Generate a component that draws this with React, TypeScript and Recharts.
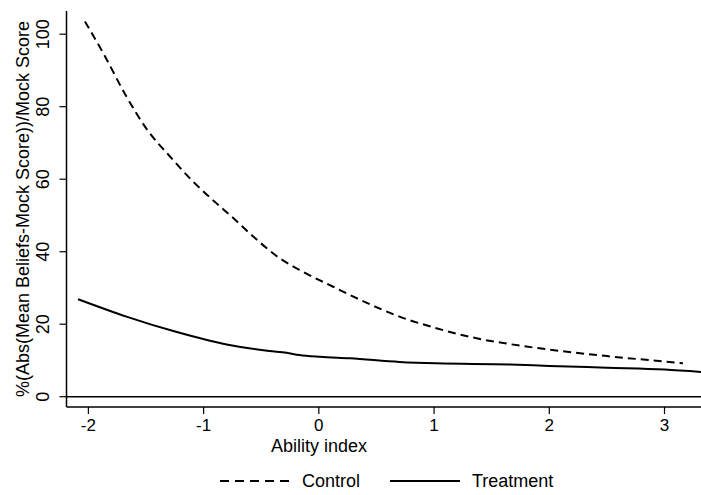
import React from 'react';
import { LineChart, Line, XAxis, YAxis, ReferenceLine, Legend, Label } from 'recharts';

// values
const controlX = [-2.03, -1.87, -1.67, -1.5, -1.29, -1.09, -0.89, -0.74, -0.57, -0.34, -0.14, 0.12, 0.36, 0.7, 1.02, 1.37, 1.66, 2.0, 2.5, 3.0, 3.16];
const controlY = [103.5, 94.7, 82.8, 74.1, 66.2, 59.3, 53.4, 49.2, 44.2, 38.2, 34.5, 30.4, 26.7, 22.1, 18.9, 16.1, 14.5, 13.0, 11.2, 9.7, 9.2];

const treatmentX = [-2.09, -1.67, -1.24, -0.8, -0.43, -0.28, -0.17, 0.01, 0.27, 0.7, 1.02, 1.66, 2.0, 2.5, 3.0, 3.33];
const treatmentY = [26.9, 22.1, 17.9, 14.4, 12.6, 12.1, 11.5, 11.0, 10.6, 9.6, 9.2, 8.9, 8.5, 8.0, 7.5, 6.8];

const xTicks = [-2, -1, 0, 1, 2, 3];
const yTicks = [0, 20, 40, 60, 80, 100];

const xTitle = 'Ability index';
const yTitle = '%(Abs(Mean Beliefs-Mock Score))/Mock Score';
const seriesNames = ['Control', 'Treatment'];

const controlData = controlX.map((x, i) => ({ x, y: controlY[i] }));
const treatmentData = treatmentX.map((x, i) => ({ x, y: treatmentY[i] }));

const FONT = '"Liberation Sans", Arial, sans-serif';
const FS = 18;
const xDomain = [-2.19, 3.334];
const yDomain = [-2.84, 106.4];

const YTick = (props: any) => {
  const { y, payload } = props;
  const bx = 49;
  return (
    <text x={bx} y={y} transform={`rotate(-90 ${bx} ${y})`} textAnchor="middle" fontSize={FS} fontFamily={FONT} fill="#000">
      {payload.value}
    </text>
  );
};

const XTick = (props: any) => {
  const { x, payload } = props;
  return (
    <text x={x} y={431} textAnchor="middle" fontSize={17} fontFamily={FONT} fill="#000">
      {payload.value}
    </text>
  );
};

const XTitle = () => (
  <text x={319} y={452} textAnchor="middle" fontSize={FS} fontFamily={FONT} fill="#000">
    {xTitle}
  </text>
);

const YTitle = () => (
  <text x={29} y={209} transform="rotate(-90 29 209)" textAnchor="middle" fontSize={FS} fontFamily={FONT} fill="#000">
    {yTitle}
  </text>
);

const renderLegend = () => (
  <svg width={705} height={30} style={{ display: 'block' }}>
    <line x1={220} x2={290} y1={14} y2={14} stroke="#000" strokeWidth={2} strokeDasharray="9 6" />
    <text x={302} y={20} fontSize={FS} fontFamily={FONT} fill="#000">{seriesNames[0]}</text>
    <line x1={390} x2={460} y1={14} y2={14} stroke="#000" strokeWidth={2} />
    <text x={472} y={20} fontSize={FS} fontFamily={FONT} fill="#000">{seriesNames[1]}</text>
  </svg>
);

export default function App() {
  return (
    <div style={{ position: 'absolute', left: 0, top: 0, width: 701, height: 495, overflow: 'hidden', background: '#fff' }}>
      <LineChart width={705} height={495} margin={{ top: 11, right: 2, bottom: 0, left: 0 }}>
        <XAxis
          type="number"
          dataKey="x"
          domain={xDomain}
          ticks={xTicks}
          allowDataOverflow
          height={88}
          tickSize={7}
          tick={<XTick />}
          axisLine={{ stroke: '#000', strokeWidth: 1.5 }}
          tickLine={{ stroke: '#000', strokeWidth: 1.2 }}
        >
          <Label content={<XTitle />} />
        </XAxis>
        <XAxis
          xAxisId="top"
          orientation="top"
          type="number"
          domain={xDomain}
          allowDataOverflow
          height={0}
          tick={false}
          tickLine={false}
          axisLine={{ stroke: '#000', strokeWidth: 1.5 }}
        />
        <YAxis
          type="number"
          domain={yDomain}
          ticks={yTicks}
          allowDataOverflow
          width={66.5}
          tickSize={7}
          tick={<YTick />}
          axisLine={{ stroke: '#000', strokeWidth: 1.5 }}
          tickLine={{ stroke: '#000', strokeWidth: 1.2 }}
        >
          <Label content={<YTitle />} />
        </YAxis>
        <ReferenceLine y={0} stroke="#000" strokeWidth={1.5} />
        <Line
          data={controlData}
          dataKey="y"
          name={seriesNames[0]}
          type="monotone"
          stroke="#000"
          strokeWidth={2}
          strokeDasharray="8 5"
          dot={false}
          isAnimationActive={false}
        />
        <Line
          data={treatmentData}
          dataKey="y"
          name={seriesNames[1]}
          type="monotone"
          stroke="#000"
          strokeWidth={2}
          dot={false}
          isAnimationActive={false}
        />
        <Legend
          layout="horizontal"
          verticalAlign="middle"
          align="center"
          content={renderLegend}
          wrapperStyle={{ top: 467, left: 0, width: 705, height: 30 }}
        />
      </LineChart>
    </div>
  );
}
